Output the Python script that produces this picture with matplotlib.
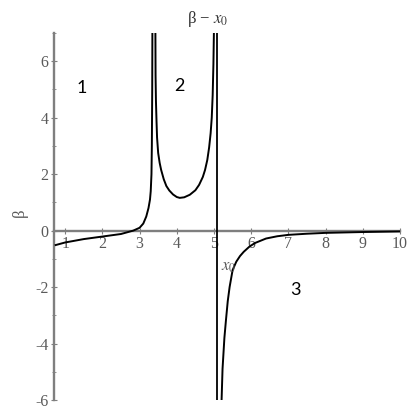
import matplotlib
matplotlib.use("Agg")
import matplotlib.pyplot as plt
from matplotlib.ticker import MultipleLocator

plt.rcParams['mathtext.fontset'] = 'stix'

# Branch 1 (left of first pole)
x1 = [0.72, 1.0, 1.5, 2.0, 2.5, 2.83, 3.0, 3.1, 3.18, 3.24, 3.28, 3.3, 3.32, 3.33, 3.34, 3.345]
y1 = [-0.52, -0.42, -0.3, -0.21, -0.12, 0.0, 0.1, 0.25, 0.5, 0.8, 1.1, 1.4, 2.0, 3.0, 5.0, 7.2]
# Branch 2 (between poles)
x2 = [3.425, 3.43, 3.44, 3.455, 3.47, 3.5, 3.54, 3.58, 3.65, 3.72, 3.8, 3.9, 4.0, 4.08, 4.2, 4.35,
      4.5, 4.6, 4.7, 4.76, 4.82, 4.87, 4.91, 4.94, 4.965, 4.985, 5.0]
y2 = [7.2, 5.5, 4.6, 3.9, 3.3, 2.75, 2.4, 2.15, 1.82, 1.58, 1.42, 1.28, 1.19, 1.16, 1.18, 1.27,
      1.43, 1.62, 1.9, 2.15, 2.5, 2.95, 3.45, 4.0, 4.8, 5.9, 7.2]
# Branch 3 (right of x0)
x3 = [5.2, 5.23, 5.28, 5.32, 5.37, 5.42, 5.5, 5.6, 5.7, 5.8, 5.95, 6.1, 6.4, 6.7, 7.0, 7.5, 8.0, 9.0, 10.0]
y3 = [-6.2, -4.9, -3.8, -3.2, -2.5, -2.0, -1.4, -1.1, -0.9, -0.75, -0.57, -0.44, -0.28, -0.2, -0.15,
      -0.11, -0.08, -0.05, -0.03]
x0 = 5.09

xticks = [1, 2, 3, 4, 5, 6, 7, 8, 9, 10]
yticks = [-6, -4, -2, 0, 2, 4, 6]
ytick_labels = ["-6", "-4", "-2", "0", "2", "4", "6"]

gray = "#7f7f7f"
tgray = "#5a5a5a"
serif = "Liberation Serif"

fig = plt.figure(figsize=(4.15, 4.15), dpi=100)
ax = fig.add_axes([54/415, 15/415, (400-54)/415, (400-33)/415])
ax.set_xlim(0.7, 10.0)
ax.set_ylim(-6, 7)

for xs, ys in ((x1, y1), (x2, y2), (x3, y3)):
    ax.plot(xs, ys, color="black", lw=1.4, solid_capstyle="butt", solid_joinstyle="round")
ax.axvline(x0, color="black", lw=1.3)

for s in ("top", "right"):
    ax.spines[s].set_visible(False)
ax.spines["bottom"].set_position(("data", 0))
ax.spines["left"].set_position(("data", 0.7))
for s in ("bottom", "left"):
    ax.spines[s].set_color(gray)
    ax.spines[s].set_linewidth(1.7)
    ax.spines[s].set_zorder(0)

ax.set_xticks(xticks)
ax.set_xticklabels([str(t) for t in xticks], fontfamily=serif, fontsize=11.5, color=tgray)
ax.set_yticks(yticks)
ax.set_yticklabels(ytick_labels, fontfamily=serif, fontsize=11.5, color=tgray)
ax.yaxis.set_minor_locator(MultipleLocator(1))
ax.tick_params(axis="both", which="major", direction="inout", length=4, width=0.8, color=gray, pad=2)
ax.tick_params(axis="y", which="minor", direction="inout", length=2.5, width=0.6, color=gray)
ax.patch.set_alpha(0)

ax.text(-0.22, 0.64, "β", rotation=90, fontfamily=serif, fontsize=12, color=tgray,
        ha="center", va="center", clip_on=False)
ax.text(4.82, 7.48, r"β − $x_0$", fontfamily=serif, fontsize=12, color="#333333",
        ha="center", va="center", clip_on=False)
ax.text(5.18, -1.26, r"$x_0$", fontsize=12, color=tgray, ha="left", va="center")

ax.text(1.45, 5.06, "1", fontfamily="Lato", fontsize=13, color="black", ha="center", va="center")
ax.text(4.07, 5.14, "2", fontfamily="Lato", fontsize=13, color="black", ha="center", va="center")
ax.text(7.19, -2.09, "3", fontfamily="Lato", fontsize=13, color="black", ha="center", va="center")

fig.savefig("out.png", dpi=100)
